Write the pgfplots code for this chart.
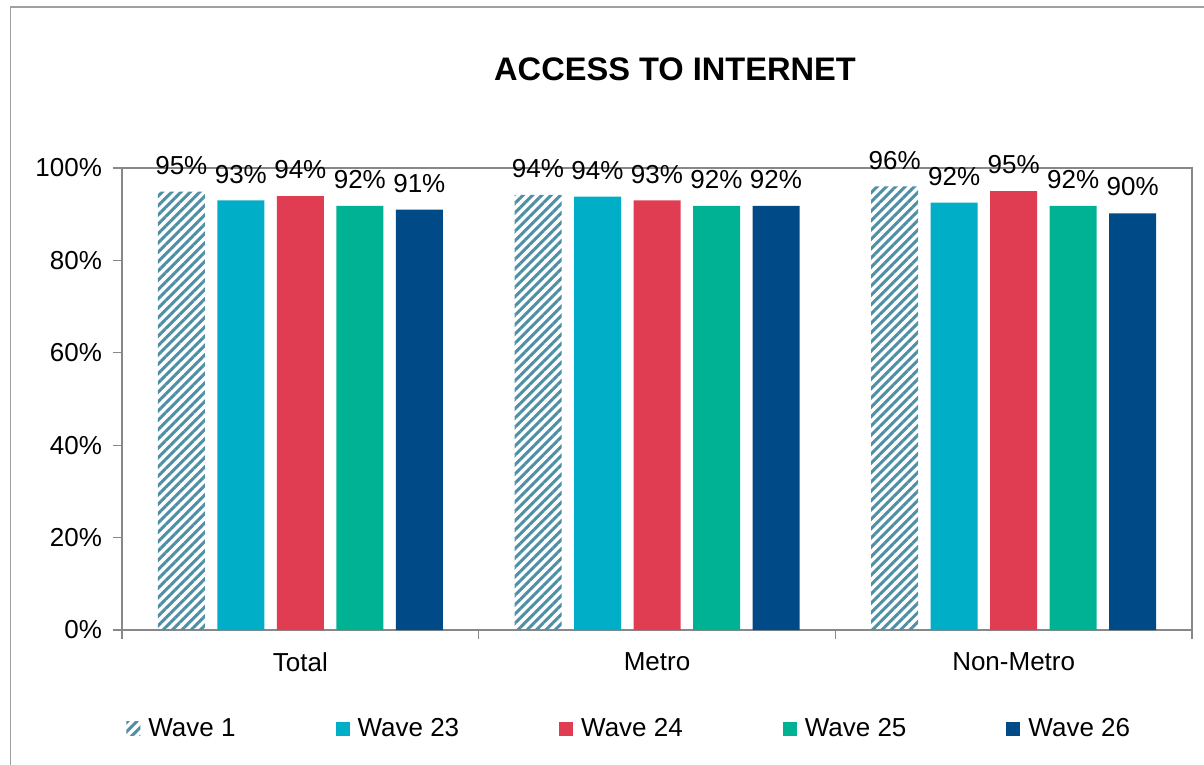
\documentclass[border=0pt]{standalone}
\usepackage{fontspec}
\setmainfont{Liberation Sans}
\usepackage{pgfplots}
\pgfplotsset{compat=1.18}
\usetikzlibrary{patterns.meta}
\definecolor{hatch}{HTML}{4F8FA6}
\definecolor{wA}{HTML}{00AEC7}
\definecolor{wB}{HTML}{E03C52}
\definecolor{wC}{HTML}{00B294}
\definecolor{wD}{HTML}{004B87}
\definecolor{axgray}{HTML}{888888}
\begin{document}
\begin{tikzpicture}
\useasboundingbox (0pt,0pt) rectangle (602pt,-382.5pt);
\draw[axgray!80, line width=0.6pt] (5.25pt,-400pt) -- (5.25pt,-3.5pt) -- (620pt,-3.5pt);
\node[font=\fontsize{16.3}{19}\selectfont\bfseries] at (337.5pt,-34.5pt) {ACCESS TO INTERNET};
\begin{axis}[
  at={(61pt,-315pt)}, anchor=south west,
  scale only axis, width=535pt, height=231pt,
  xmin=-0.5, xmax=2.5, ymin=0, ymax=100,
  clip=false,
  ybar, bar width=23.5pt,
  xtick={0,1,2}, xticklabels={Total,Metro,Non-Metro},
  major x tick style={draw=none},
  minor xtick={-0.5,0.5,1.5,2.5},
  ytick={0,20,...,100},
  /pgf/number format/assume math mode=true,
  yticklabel={\pgfmathprintnumber{\tick}\%},
  tick align=outside, major tick length=4.5pt, minor tick length=4.5pt,
  tick style={axgray, line width=0.6pt},
  axis line style={axgray, line width=0.6pt},
  ytick pos=left, xtick pos=bottom,
  tick label style={font=\fontsize{13}{15}\selectfont},
  xticklabel style={yshift=-3.2pt},
  yticklabel style={xshift=-2pt},
  point meta=explicit symbolic,
  nodes near coords={\pgfplotspointmeta\%},
  nodes near coords style={font=\fontsize{13}{15}\selectfont, text=black, yshift=5pt},
  legend columns=5,
  legend style={at={(0.475,-0.214)}, anchor=center, draw=none,
    font=\fontsize{13}{15}\selectfont,
    /tikz/every odd column/.append style={column sep=2pt},
    /tikz/every even column/.append style={column sep=48pt}},
  legend image code/.code={\fill[#1] (0pt,-3.5pt) rectangle (7pt,3.5pt);},
]
\addplot[bar shift=-59.5pt, draw=none, pattern={Lines[angle=45,distance=3.3pt,line width=1.5pt]}, pattern color=hatch]
  coordinates {(0,94.9)[95] (1,94.2)[94] (2,96.0)[96]};
\addplot[bar shift=-29.75pt, draw=none, fill=wA]
  coordinates {(0,93.0)[93] (1,93.8)[94] (2,92.5)[92]};
\addplot[bar shift=0pt, draw=none, fill=wB]
  coordinates {(0,93.9)[94] (1,93.0)[93] (2,95.0)[95]};
\addplot[bar shift=29.75pt, draw=none, fill=wC]
  coordinates {(0,91.8)[92] (1,91.8)[92] (2,91.8)[92]};
\addplot[bar shift=59.5pt, draw=none, fill=wD]
  coordinates {(0,91.0)[91] (1,91.8)[92] (2,90.2)[90]};
\legend{Wave 1,Wave 23,Wave 24,Wave 25,Wave 26}
\end{axis}
\end{tikzpicture}
\end{document}
